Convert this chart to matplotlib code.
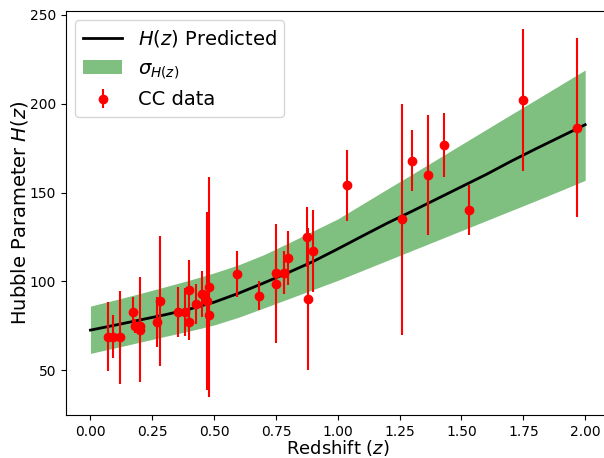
import numpy as np
import matplotlib
matplotlib.use('Agg')
import matplotlib.pyplot as plt

# cosmic chronometer data: redshift, H(z), 1-sigma error
z_cc = [0.07, 0.09, 0.12, 0.17, 0.179, 0.199, 0.2, 0.27, 0.28, 0.352,
        0.3802, 0.4, 0.4004, 0.4247, 0.4497, 0.47, 0.4783, 0.48, 0.593, 0.68,
        0.75, 0.75, 0.781, 0.7812, 0.8, 0.8754, 0.88, 0.9, 1.037, 1.26,
        1.3, 1.363, 1.43, 1.53, 1.75, 1.965]
h_cc = [69, 69, 68.6, 83, 75, 75, 72.9, 77, 88.8, 83,
        83, 95, 77, 87.1, 92.8, 89, 80.9, 97, 104, 92,
        98.8, 105, 105, 105, 113.1, 125, 90, 117, 154, 135,
        168, 160, 177, 140, 202, 186.5]
err_cc = [19.6, 12, 26.2, 8, 4, 5, 29.6, 14, 36.6, 14,
          13.5, 17, 10.2, 11.2, 12.9, 50, 9, 62, 13, 8,
          33.6, 10.8, 12, 12, 15.1, 17, 40, 23, 20, 65,
          17, 33.6, 18, 14, 40, 50.4]

# predicted curve and band
z_pred = [0.0, 0.1, 0.2, 0.3, 0.4, 0.5, 0.6, 0.7, 0.8, 0.9, 1.0,
          1.1, 1.2, 1.3, 1.4, 1.5, 1.6, 1.7, 1.8, 1.9, 2.0]
h_pred = [72.6, 75.4, 78.3, 81.2, 84.4, 88.3, 93.4, 99.1, 105.0, 111.2, 118.3,
          125.6, 132.8, 139.5, 146.4, 153.3, 160.2, 167.6, 174.6, 181.4, 188.2]
h_upper = [86.1, 89.6, 93.2, 96.9, 100.7, 104.8, 109.4, 115.0, 121.6, 128.4, 135.2,
           143.6, 152.0, 160.3, 168.7, 177.1, 185.5, 193.9, 202.2, 210.6, 219.0]
h_lower = [59.5, 62.6, 65.8, 69.0, 72.1, 75.5, 79.9, 85.0, 90.2, 95.4, 100.6,
           106.2, 111.8, 117.4, 123.0, 128.6, 134.2, 139.8, 145.4, 151.1, 156.9]

fig = plt.figure(figsize=(6.04, 4.58), dpi=100)
ax = fig.add_axes([0.1088, 0.0932, 0.901, 0.8834])

ax.plot(z_pred, h_pred, color='black', lw=2, label='$H(z)$ Predicted')
ax.fill_between(z_pred, h_lower, h_upper, color='green', alpha=0.5, lw=0,
                label=r'$\sigma_{H(z)}$')
ax.errorbar(z_cc, h_cc, yerr=err_cc, fmt='o', color='red', ms=6, elinewidth=1.5,
            label='CC data')

ax.set_xlim(-0.1, 2.1)
ax.set_ylim(24.65, 252.35)
ax.set_xlabel('Redshift ($z$)', fontsize=13, labelpad=-1)
ax.set_ylabel('Hubble Parameter $H(z)$', fontsize=14, labelpad=0)
ax.legend(loc='upper left', fontsize=14)

plt.savefig('out.png', dpi=100)
